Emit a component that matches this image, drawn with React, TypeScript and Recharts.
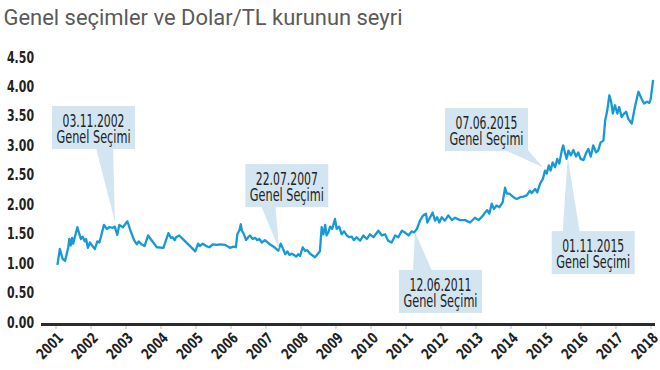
import { LineChart, Line, XAxis, YAxis, ReferenceDot } from 'recharts'

const years = [2001, 2002, 2003, 2004, 2005, 2006, 2007, 2008, 2009, 2010, 2011, 2012, 2013, 2014, 2015, 2016, 2017, 2018]
const yTicks = [0, 0.5, 1, 1.5, 2, 2.5, 3, 3.5, 4, 4.5]

// roughly weekly/monthly points (fractional year)
const dates = [
  2001.04, 2001.11, 2001.19, 2001.26, 2001.35, 2001.38, 2001.42, 2001.46, 2001.49, 2001.61, 2001.71, 2001.76, 2001.82, 2001.86, 2001.91, 2001.97,
  2002.03, 2002.11, 2002.18, 2002.24, 2002.37, 2002.45, 2002.52, 2002.62, 2002.68, 2002.75, 2002.81, 2002.91,
  2003.04, 2003.11, 2003.23, 2003.31, 2003.36, 2003.44, 2003.53, 2003.63, 2003.74, 2003.88,
  2004.07, 2004.21, 2004.28, 2004.33, 2004.39, 2004.43, 2004.52, 2004.64, 2004.83, 2004.98,
  2005.06, 2005.11, 2005.19, 2005.29, 2005.38, 2005.49, 2005.59, 2005.69, 2005.83, 2005.97,
  2006.07, 2006.14, 2006.18, 2006.24, 2006.28, 2006.31, 2006.37, 2006.43, 2006.49, 2006.54, 2006.62, 2006.69, 2006.75, 2006.81, 2006.88, 2006.97,
  2007.11, 2007.26, 2007.35, 2007.42, 2007.49, 2007.55, 2007.61, 2007.67, 2007.73, 2007.8, 2007.86, 2007.92, 2007.97,
  2008.05, 2008.11, 2008.18, 2008.26, 2008.4, 2008.54, 2008.59, 2008.64, 2008.69, 2008.73, 2008.78, 2008.83, 2008.89, 2008.97,
  2009.02, 2009.09, 2009.16, 2009.23, 2009.31, 2009.38, 2009.45, 2009.51, 2009.59, 2009.69, 2009.78, 2009.88, 2009.97,
  2010.07, 2010.21, 2010.31, 2010.4, 2010.49, 2010.59, 2010.69, 2010.78, 2010.88, 2010.97,
  2011.07, 2011.16, 2011.23, 2011.31, 2011.4, 2011.49, 2011.57, 2011.61, 2011.69, 2011.76, 2011.83, 2011.89, 2011.95,
  2012.02, 2012.11, 2012.21, 2012.31, 2012.4, 2012.54, 2012.69, 2012.83, 2012.97,
  2013.07, 2013.16, 2013.26, 2013.32, 2013.38, 2013.45, 2013.51, 2013.59, 2013.67, 2013.76, 2013.83, 2013.88, 2013.95,
  2014.07, 2014.16, 2014.26, 2014.35, 2014.45, 2014.54, 2014.59, 2014.69, 2014.75, 2014.83, 2014.91, 2014.97,
  2015.02, 2015.08, 2015.13, 2015.19, 2015.26, 2015.32, 2015.38, 2015.45, 2015.49, 2015.54, 2015.59, 2015.64, 2015.71, 2015.78, 2015.86, 2015.92, 2015.99,
  2016.07, 2016.14, 2016.21, 2016.28, 2016.35, 2016.43, 2016.49, 2016.56, 2016.64, 2016.69, 2016.75, 2016.81, 2016.86, 2016.91, 2016.97,
  2017.04, 2017.09, 2017.16, 2017.23, 2017.29, 2017.35, 2017.45, 2017.54, 2017.64, 2017.73, 2017.8, 2017.88, 2017.95, 2017.99,
  2018.06,
]
const rates = [
  0.97, 1.24, 1.07, 1.04, 1.27, 1.41, 1.3, 1.43, 1.33, 1.61, 1.41, 1.45, 1.37, 1.41, 1.26, 1.35,
  1.3, 1.24, 1.37, 1.35, 1.65, 1.58, 1.61, 1.6, 1.62, 1.48, 1.65, 1.61,
  1.71, 1.58, 1.39, 1.32, 1.37, 1.32, 1.29, 1.47, 1.38, 1.27,
  1.26, 1.51, 1.43, 1.44, 1.39, 1.44, 1.47, 1.4, 1.29, 1.2,
  1.33, 1.29, 1.33, 1.29, 1.27, 1.32, 1.31, 1.32, 1.31, 1.26,
  1.28, 1.27, 1.49, 1.56, 1.66, 1.55, 1.49, 1.39, 1.44, 1.47, 1.41, 1.43, 1.39, 1.41, 1.35, 1.39,
  1.32, 1.26, 1.21, 1.33, 1.24, 1.15, 1.2, 1.14, 1.16, 1.14, 1.11, 1.15, 1.12,
  1.27, 1.21, 1.22, 1.16, 1.1, 1.2, 1.61, 1.49, 1.65, 1.47, 1.52, 1.62, 1.58, 1.75,
  1.58, 1.62, 1.49, 1.54, 1.47, 1.44, 1.45, 1.39, 1.44, 1.38, 1.47, 1.41, 1.49,
  1.44, 1.55, 1.47, 1.49, 1.38, 1.35, 1.47, 1.44, 1.55, 1.52,
  1.47, 1.54, 1.52, 1.58, 1.72, 1.81, 1.84, 1.69, 1.78, 1.86, 1.72, 1.78, 1.69,
  1.78, 1.72, 1.81, 1.73, 1.77, 1.73, 1.73, 1.69, 1.77,
  1.73, 1.78, 1.86, 1.9, 1.84, 2.01, 1.92, 1.98, 1.95, 2.03, 2.28, 2.18, 2.18,
  2.12, 2.09, 2.12, 2.13, 2.15, 2.23, 2.19, 2.26, 2.2, 2.35, 2.43, 2.57,
  2.52, 2.66, 2.57, 2.71, 2.63, 2.77, 2.69, 2.91, 3.0, 2.88, 2.77, 2.91, 2.83, 2.92, 2.81, 2.88, 2.77,
  2.75, 2.86, 2.94, 2.81, 3.0, 2.88, 2.91, 3.05, 3.08, 3.42, 3.59, 3.85, 3.74, 3.54, 3.68,
  3.54, 3.65, 3.48, 3.54, 3.57, 3.45, 3.37, 3.65, 3.91, 3.79, 3.71, 3.74, 3.72, 3.78,
  4.11,
]

const electionLabels = ['03.11.2002', '22.07.2007', '12.06.2011', '07.06.2015', '01.11.2015']
const electionDates = [2002.686, 2007.38, 2011.257, 2014.914, 2015.62]
const electionRates = [1.7, 1.22, 1.53, 2.63, 2.8]

const data = dates.map((t, i) => ({ t, rate: rates[i] }))

const BLUE = '#1799d6'
const BOX = '#d3e5f0'
const NARROW = '"Liberation Sans Narrow", "DejaVu Sans Condensed", Roboto, sans-serif'
const BOX_W = 83
const BOX_H = 43

// where each box sits relative to its pointer tip (px)
const calloutLayout = [
  { dx: -63, dy: -116, base: [-19, -2], side: 'bottom' },
  { dx: -34, dy: -86, base: [-18, -4], side: 'bottom' },
  { dx: -16, dy: 38, base: [-2, 17], side: 'top' },
  { dx: -98, dy: -59, base: [-38, -15], side: 'bottom' },
  { dx: -16, dy: 74, base: [-5, 12], side: 'top' },
]

const Callout = ({ cx, cy, label, layout }: any) => {
  const { dx, dy, base, side } = layout
  const bx = cx + dx
  const by = cy + dy
  const edgeY = side === 'bottom' ? by + BOX_H - 1 : by + 1
  const pts = `${cx},${cy} ${cx + base[0]},${edgeY} ${cx + base[1]},${edgeY}`
  return (
    <g>
      <polygon points={pts} fill={BOX} />
      <rect x={bx} y={by} width={BOX_W} height={BOX_H} fill={BOX} />
      <text x={bx + BOX_W / 2} y={by + 21} textAnchor="middle" fontFamily={NARROW} fontSize={18} fill="#222"
        textLength={62} lengthAdjust="spacingAndGlyphs">{label}</text>
      <text x={bx + BOX_W / 2} y={by + 37} textAnchor="middle" fontFamily={NARROW} fontSize={18} fill="#222"
        textLength={74} lengthAdjust="spacingAndGlyphs">Genel Seçimi</text>
    </g>
  )
}

const YTick = ({ y, payload }: any) => (
  <text x={34} y={y + 5.5} textAnchor="end" fontFamily={NARROW} fontWeight="bold" fontSize={16} fill="#222"
    textLength={27} lengthAdjust="spacingAndGlyphs">{payload.value.toFixed(2)}</text>
)

// textLength breaks rotated text in chrome, so squeeze with a scale instead
const XTick = ({ x, payload }: any) => (
  <g transform={`translate(${x + 8} 339) rotate(-45) scale(0.8 1)`}>
    <text x={0} y={0} textAnchor="end" fontFamily={NARROW} fontWeight="bold" fontSize={15} fill="#222">
      {payload.value}
    </text>
  </g>
)

export default function App() {
  return (
    <div style={{ position: 'absolute', left: 0, top: 0, width: 660, height: 370, background: '#fff' }}>
      <LineChart width={660} height={370} data={data} margin={{ top: 57, right: 5, bottom: 0, left: 0 }}>
        <XAxis dataKey="t" type="number" domain={[2000.571, 2018.114]} ticks={years} interval={0}
          allowDataOverflow height={45.5} tick={<XTick />} tickSize={3} tickMargin={0}
          axisLine={{ stroke: '#2b2b2b', strokeWidth: 3 }} tickLine={{ stroke: '#bbb', transform: 'translate(0,1.5)' }} />
        <YAxis type="number" domain={[-0.042, 4.5]} ticks={yTicks} interval={0} width={41} allowDataOverflow
          axisLine={false} tickLine={false} tick={<YTick />} />
        {electionLabels.map((label, i) => (
          <ReferenceDot key={label} x={electionDates[i]} y={electionRates[i]} ifOverflow="visible"
            shape={(p: any) => <Callout cx={p.cx} cy={p.cy} label={label} layout={calloutLayout[i]} />} />
        ))}
        <Line dataKey="rate" type="linear" stroke={BLUE} strokeWidth={2.3} strokeLinejoin="round"
          dot={false} activeDot={false} isAnimationActive={false} />
      </LineChart>
      <svg width={660} height={40} style={{ position: 'absolute', left: 0, top: 0, pointerEvents: 'none' }}>
        <text x={3.5} y={25} fontFamily="Roboto, sans-serif" fontSize={22} fill="#5a5a5a"
          textLength={399} lengthAdjust="spacingAndGlyphs">Genel seçimler ve Dolar/TL kurunun seyri</text>
      </svg>
    </div>
  )
}
